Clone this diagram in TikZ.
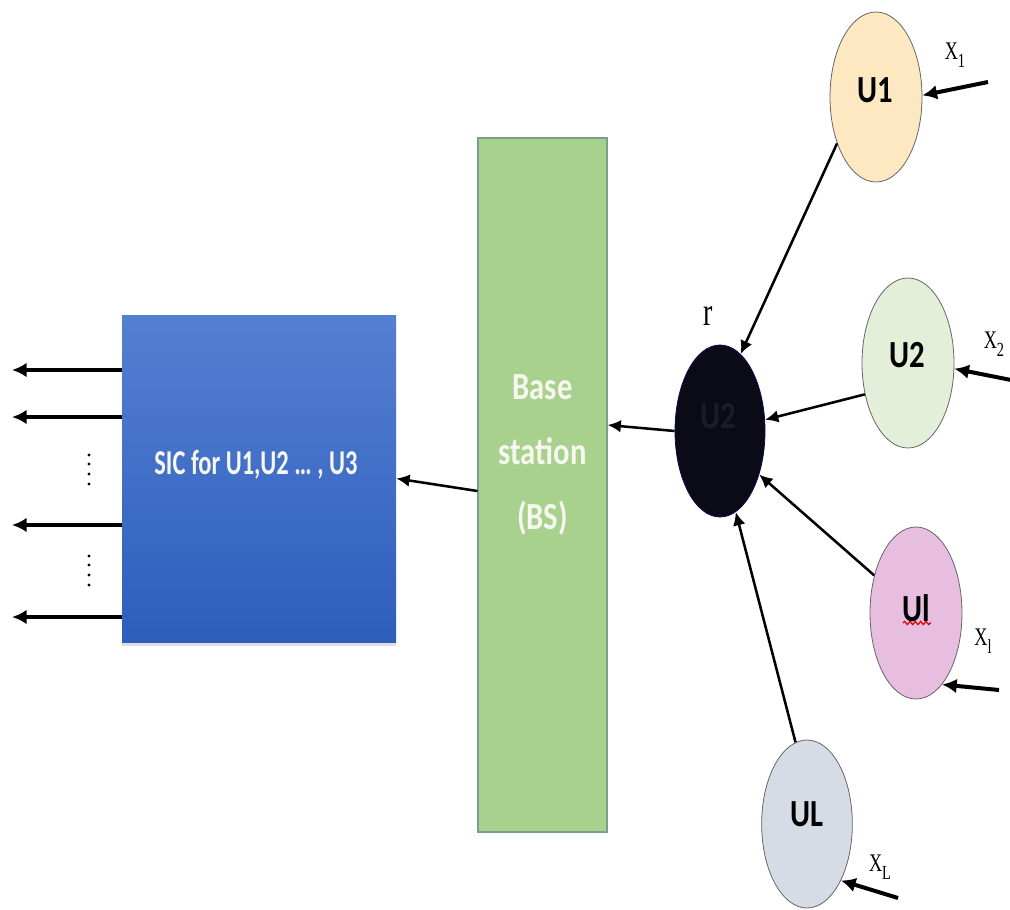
\documentclass[tikz,border=0pt]{standalone}
\usepackage{fontspec}
\newfontfamily\carl{Carlito}
\newfontfamily\tms{Liberation Serif}
\usetikzlibrary{arrows.meta,shapes.geometric,shadows,calc,decorations.pathmorphing}
\definecolor{sicTop}{HTML}{5480D2}
\definecolor{sicBot}{HTML}{2E5EBC}
\definecolor{bsFill}{HTML}{A9D18E}
\definecolor{bsDraw}{HTML}{7E9E8C}
\definecolor{uOne}{HTML}{FDE8C2}
\definecolor{uTwo}{HTML}{E3EFD9}
\definecolor{uEll}{HTML}{E7BEE0}
\definecolor{uBig}{HTML}{D6DCE6}
\definecolor{relay}{HTML}{0B0B16}
\definecolor{relayTxt}{HTML}{1C1C28}
\definecolor{txtW}{HTML}{F6F8F0}
\newcommand{\ulab}[1]{\scalebox{1}[1.25]{#1}}
\newcommand{\xsub}[2]{\scalebox{0.72}[1]{X\raisebox{-6pt}{\fontsize{15}{17}\selectfont #2}}}
\tikzset{
  user/.style={ellipse, draw=black!60, line width=0.6pt, inner sep=0pt,
    minimum width=69pt, minimum height=127.5pt},
  ufont/.style={font=\carl\bfseries\fontsize{23}{27}\selectfont, inner sep=0pt},
  thinarrow/.style={line width=1.9pt, -{Latex[length=10pt,width=9.5pt]}},
  thickarrow/.style={line width=3pt, -{Latex[length=11pt,width=11pt]}},
  xlab/.style={font=\tms\fontsize{19}{22}\selectfont, inner sep=0pt},
  dotmark/.style={fill=black, circle, inner sep=0pt, minimum size=2.6pt}
}
\begin{document}
\begin{tikzpicture}[x=0.75pt,y=-0.75pt]
\useasboundingbox (0,0) rectangle (1010,910);

% SIC block
\node[rectangle, top color=sicTop, bottom color=sicBot, draw=none,
  minimum width=205.5pt, minimum height=245.25pt, inner sep=0pt,
  drop shadow={opacity=0.25, shadow xshift=0pt, shadow yshift=-3pt}] (SIC) at (259,478.5) {};
\node[font=\carl\bfseries\fontsize{18}{22}\selectfont, text=txtW, inner sep=0pt] (SICtxt) at (256,465)
  {\scalebox{1.02}[1.45]{SIC for U1,U2 … , U3}};

% Base station
\node[rectangle, fill=bsFill, draw=bsDraw, line width=0.8pt,
  minimum width=96.75pt, minimum height=520.5pt, inner sep=0pt] (BS) at (542.5,485) {};
\node[font=\carl\bfseries\fontsize{23}{49}\selectfont, text=txtW, align=center, inner sep=0pt] (BStxt) at (542.5,455)
  {\ulab{Base}\\\ulab{station}\\\ulab{(BS)}};

% relay
\node[ellipse, fill=relay, draw=relay!70!blue, line width=0.6pt, inner sep=0pt,
  minimum width=67.5pt, minimum height=129pt] (r) at (720,431) {};
\node[ufont, text=relayTxt] (rtxt) at (718,416) {\ulab{U2}};
\node[font=\tms\fontsize{30}{32}\selectfont, inner sep=0pt] (rlab) at (708,316) {\scalebox{0.7}[1]{r}};

% users
\node[user, fill=uOne] (U1) at (876,97) {};
\node[ufont] (U1txt) at (875,90) {\ulab{U1}};
\node[user, fill=uTwo] (U2) at (908,363) {};
\node[ufont] (U2txt) at (907,355) {\ulab{U2}};
\node[user, fill=uEll, minimum height=129pt] (Ul) at (916,613) {};
\node[ufont] (Ultxt) at (916,608) {\ulab{Ul}};
\node[user, fill=uBig, minimum width=68pt, minimum height=126pt] (UL) at (807,824) {};
\node[ufont] (ULtxt) at (807,814) {\ulab{UL}};

% spell-check underline
\coordinate (wavyA) at (903,623);
\coordinate (wavyB) at (931,623);
\draw[red!85!black, line width=0.9pt, decorate,
  decoration={snake, amplitude=1.2pt, segment length=4pt}] (wavyA) -- (wavyB);

% users -> relay
\draw[thinarrow] (U1.230) -- (r.75);
\draw[thinarrow] (U2.216) -- (r.14);
\draw[thinarrow] (Ul.138) -- (r.312);
\draw[thinarrow] (UL.98) -- (r.281);

% relay -> BS, BS -> SIC
\draw[thinarrow] (r.west) -- ($(BS.east)+(0,-60)$);
\draw[thinarrow] ($(BS.west)+(0,6)$) -- (SIC.east);

% outputs
\coordinate (o1) at (12,370);
\coordinate (o2) at (12,417);
\coordinate (o3) at (12,525);
\coordinate (o4) at (12,617);
\foreach \o in {o1,o2,o3,o4}
  \draw[thickarrow] (SIC.west |- \o) -- (\o);
\foreach \yy [count=\i] in {455,464,474,484,556,565,575,585}
  \node[dotmark] (dot\i) at (89,\yy) {};

% inputs
\coordinate (x1t) at (988,82);
\coordinate (x2t) at (1011,380);
\coordinate (xlt) at (999,690);
\coordinate (xLt) at (898,898);
\draw[thickarrow] (x1t) -- (U1.2);
\draw[thickarrow] (x2t) -- (U2.353);
\draw[thickarrow] (xlt) -- (Ul.290);
\draw[thickarrow] (xLt) -- (UL.301);

\node[xlab] (X1) at (955,55) {\xsub{X}{1}};
\node[xlab] (X2) at (994,344) {\xsub{X}{2}};
\node[xlab] (Xl) at (983,641) {\xsub{X}{l}};
\node[xlab] (XL) at (880,867) {\xsub{X}{L}};
\end{tikzpicture}
\end{document}
